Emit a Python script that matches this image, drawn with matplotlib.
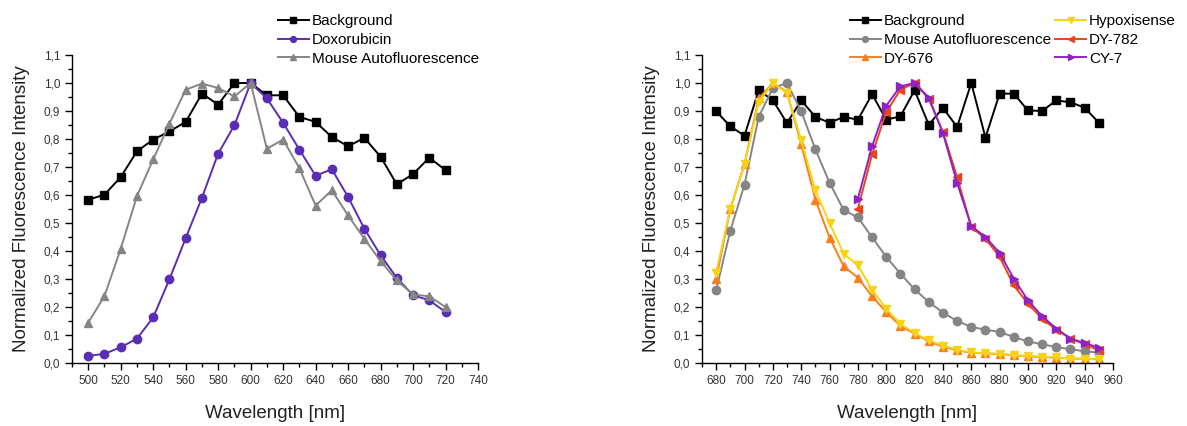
import matplotlib
matplotlib.use("Agg")
import matplotlib.pyplot as plt
from matplotlib.ticker import MultipleLocator, FuncFormatter

plt.rcParams['font.family'] = ['Liberation Sans', 'DejaVu Sans']

# ---------- Left panel data ----------
wl_left = list(range(500, 721, 10))
bg_left = [0.583, 0.601, 0.664, 0.756, 0.798, 0.827, 0.861, 0.962, 0.923, 1.0, 1.0,
           0.956, 0.956, 0.879, 0.861, 0.807, 0.774, 0.804, 0.737, 0.638, 0.675, 0.733, 0.689]
doxo = [0.025, 0.033, 0.056, 0.087, 0.163, 0.299, 0.446, 0.590, 0.748, 0.849, 1.0,
        0.945, 0.858, 0.762, 0.669, 0.692, 0.593, 0.480, 0.385, 0.304, 0.242, 0.224, 0.182]
mouse_left = [0.144, 0.239, 0.408, 0.596, 0.727, 0.855, 0.976, 0.998, 0.982, 0.952, 1.0,
              0.765, 0.798, 0.696, 0.562, 0.617, 0.527, 0.444, 0.364, 0.295, 0.245, 0.238, 0.200]

# ---------- Right panel data ----------
wl_right = list(range(680, 951, 10))
bg_right = [0.899, 0.845, 0.812, 0.974, 0.938, 0.857, 0.938, 0.879, 0.858, 0.879, 0.869,
            0.960, 0.869, 0.881, 0.974, 0.851, 0.911, 0.843, 1.0, 0.805, 0.962, 0.962,
            0.902, 0.900, 0.938, 0.931, 0.912, 0.858]
mouse_right = [0.260, 0.473, 0.637, 0.879, 0.982, 1.0, 0.899, 0.763, 0.644, 0.546, 0.520,
               0.449, 0.379, 0.319, 0.263, 0.218, 0.180, 0.150, 0.129, 0.119, 0.111, 0.093,
               0.077, 0.067, 0.057, 0.049, 0.042, 0.037]
dy676 = [0.300, 0.551, 0.710, 0.945, 1.0, 0.968, 0.781, 0.583, 0.448, 0.345, 0.305,
         0.238, 0.182, 0.132, 0.105, 0.077, 0.058, 0.045, 0.037, 0.034, 0.032, 0.027,
         0.024, 0.021, 0.019, 0.016, 0.015, 0.013]
hypox = [0.323, 0.551, 0.710, 0.932, 1.0, 0.964, 0.795, 0.617, 0.500, 0.390, 0.349,
         0.262, 0.194, 0.140, 0.107, 0.081, 0.062, 0.047, 0.038, 0.034, 0.033, 0.028,
         0.025, 0.022, 0.020, 0.016, 0.015, 0.013]
wl_nir = list(range(780, 951, 10))
dy782 = [0.551, 0.745, 0.896, 0.976, 1.0, 0.944, 0.825, 0.664, 0.486, 0.444, 0.379,
         0.277, 0.212, 0.158, 0.119, 0.087, 0.067, 0.045]
cy7 = [0.587, 0.774, 0.919, 0.988, 1.0, 0.948, 0.821, 0.643, 0.489, 0.450, 0.393,
       0.301, 0.224, 0.167, 0.123, 0.087, 0.071, 0.055]

W, H = 1187, 426
fig = plt.figure(figsize=(W / 100, H / 100), dpi=100)

def px_axes(x0, x1, y0, y1):
    return fig.add_axes([x0 / W, 1 - y1 / H, (x1 - x0) / W, (y1 - y0) / H])

axL = px_axes(72, 478, 55, 363)
axR = px_axes(702, 1113, 55, 363)

comma = FuncFormatter(lambda v, p: f"{v:.1f}".replace(".", ","))

def style(ax, xlim, xmaj):
    ax.set_xlim(*xlim)
    ax.set_ylim(0, 1.1)
    for s in ['top', 'right']:
        ax.spines[s].set_visible(False)
    for s in ['left', 'bottom']:
        ax.spines[s].set_linewidth(1.0)
    ax.xaxis.set_major_locator(MultipleLocator(xmaj))
    ax.xaxis.set_minor_locator(MultipleLocator(xmaj / 2))
    ax.yaxis.set_major_locator(MultipleLocator(0.1))
    ax.yaxis.set_minor_locator(MultipleLocator(0.05))
    ax.yaxis.set_major_formatter(comma)
    ax.tick_params(which='major', direction='out', length=5, width=1, labelsize=8.5,
                   labelcolor='#333333')
    ax.tick_params(which='minor', direction='out', length=3, width=1)
    ax.set_xlabel("Wavelength [nm]", fontsize=13.5, color='#222222', labelpad=13)
    ax.set_ylabel("Normalized Fluorescence Intensity", fontsize=13.5, color='#222222',
                  labelpad=10)

style(axL, (490, 740), 20)
style(axR, (670, 960), 20)

lw = 1.4
ms = 6
axL.plot(wl_left, bg_left, '-s', color='black', lw=lw, ms=ms, label='Background')
axL.plot(wl_left, doxo, '-o', color='#5a2db5', lw=lw, ms=ms, label='Doxorubicin')
axL.plot(wl_left, mouse_left, '-^', color='#858585', lw=lw, ms=ms, label='Mouse Autofluorescence')

axR.plot(wl_right, bg_right, '-s', color='black', lw=lw, ms=ms, label='Background')
axR.plot(wl_right, mouse_right, '-o', color='#858585', lw=lw, ms=ms, label='Mouse Autofluorescence')
axR.plot(wl_right, dy676, '-^', color='#f7801e', lw=lw, ms=ms, label='DY-676')
axR.plot(wl_right, hypox, '-v', color='#f5d316', lw=lw, ms=ms, label='Hypoxisense')
axR.plot(wl_nir, dy782, '-<', color='#e8451c', lw=lw, ms=ms, label='DY-782')
axR.plot(wl_nir, cy7, '->', color='#8f22c4', lw=lw, ms=ms, label='CY-7')

leg_kw = dict(frameon=False, fontsize=11, handlelength=2.0, handletextpad=0.2,
              labelspacing=0.32, borderpad=0, borderaxespad=0, markerscale=0.7,
              loc='upper left', bbox_transform=fig.transFigure)
axL.legend(bbox_to_anchor=(278 / W, 1 - 14 / H), **leg_kw)
axR.legend(bbox_to_anchor=(850 / W, 1 - 14 / H), ncol=2, columnspacing=0.3, **leg_kw)

fig.savefig("out.png", dpi=100)
